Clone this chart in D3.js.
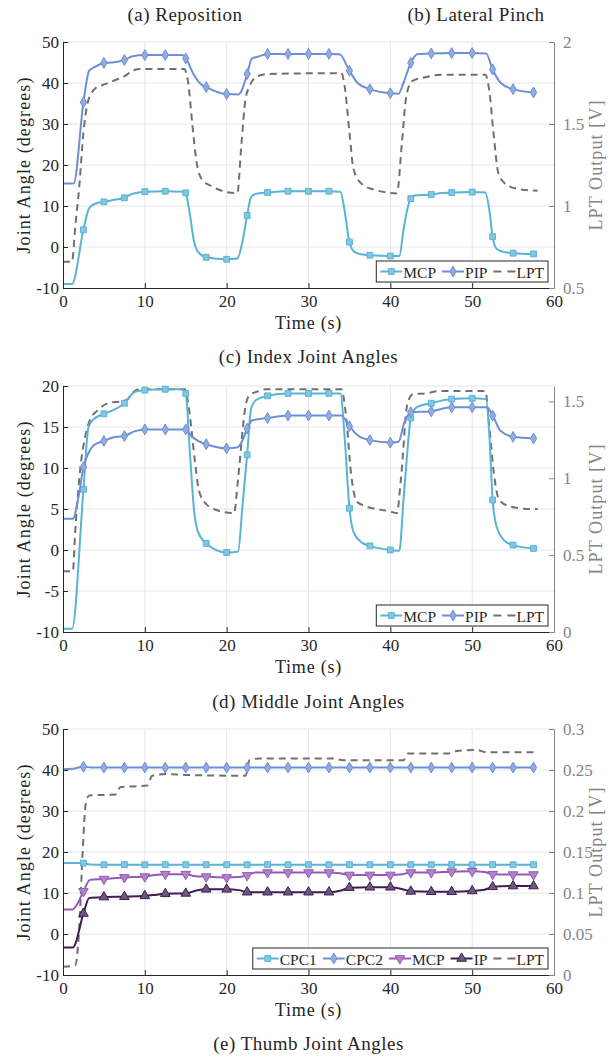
<!DOCTYPE html>
<html>
<head>
<meta charset="utf-8">
<script src="https://cdn.jsdelivr.net/npm/d3@7"></script>
<style>
body { margin: 0; background: #fff; }
text { font-family: "Liberation Serif", "DejaVu Serif", serif; }
</style>
</head>
<body>
<svg id="chart"></svg>
<script>
// time ticks shared by all panels
const timeTicks = [0, 10, 20, 30, 40, 50, 60];

// (a)/(b) Reposition + Lateral pinch : [time s, value]
const repoMcp = [[0,-9],[1.1,-9],[2.5,4.2],[3.2,9.5],[4,10.6],[5,11],[6,11.4],[7.5,12],[8.5,13],[10,13.5],[12.5,13.6],[14.8,13.5],[15,13.2],[15.5,8],[16,1.5],[16.5,-1.2],[17.5,-2.5],[20,-3],[21.3,-2.8],[22,2],[22.5,7.7],[23,12.3],[23.6,13],[25,13.3],[27.5,13.6],[30,13.6],[32.5,13.6],[33.9,13.5],[34.4,9],[35,1.2],[35.6,-1.2],[36.5,-1.8],[37.5,-2],[40,-2.2],[41.1,-2.2],[41.6,4],[42,8.5],[42.5,11.8],[43.1,12.6],[45,12.8],[46,13.1],[47.5,13.3],[50,13.4],[51.6,13.3],[52.1,9],[52.5,2.5],[53,-0.5],[54,-1.3],[55,-1.5],[57.5,-1.7]];
const repoPip = [[0,15.5],[1.3,15.5],[2.5,35.3],[3.2,43],[3.8,43.8],[5,44.9],[6,45],[7.5,45.6],[8.5,46.5],[10,46.8],[12.5,46.8],[14.6,46.8],[15,46],[16,42],[16.8,39.8],[17.5,39],[20,37.3],[21.4,37.2],[21.8,38],[22.5,42.2],[23.1,46],[23.8,46.4],[25,47.1],[27.5,47.1],[30,47.1],[32.5,47.1],[33.8,47],[35,43],[36,40],[37.5,38.5],[40,37.5],[41,37.4],[41.6,40],[42.5,44.9],[43.3,47],[45,47.2],[47.5,47.3],[50,47.3],[51.7,47.2],[52.5,43.3],[53.5,40],[55,38.5],[57.5,37.7]];
const repoLpt = [[0,0.66],[1.1,0.66],[1.5,0.875],[2,1.125],[2.5,1.45],[3,1.625],[3.5,1.69],[4,1.72],[5,1.74],[6.5,1.77],[7.5,1.79],[8.5,1.825],[9.5,1.835],[14.8,1.835],[15.3,1.75],[15.8,1.5],[16.3,1.275],[17,1.16],[18,1.125],[20,1.085],[21.3,1.078],[21.8,1.375],[22.3,1.65],[22.8,1.73],[23.7,1.79],[25,1.805],[34,1.81],[34.5,1.7],[35,1.45],[35.5,1.225],[36.5,1.135],[38,1.1],[40.8,1.078],[41.4,1.375],[41.9,1.65],[42.6,1.76],[44.3,1.785],[46.2,1.8],[51.6,1.8],[52.1,1.7],[52.6,1.45],[53.2,1.2],[54,1.1375],[55.5,1.105],[58,1.093]];

// (c) Index joint angles
const indexMcp = [[0,-9.6],[1.1,-9.6],[2.5,7.4],[3.1,14.9],[3.8,16],[5,16.6],[6,17],[7.5,17.9],[8.8,19.3],[10,19.5],[12.5,19.6],[14.6,19.6],[15,19.1],[15.5,12],[16,5],[16.5,2.2],[17.5,0.8],[20,-0.3],[21.4,-0.2],[21.9,5],[22.5,11.6],[23,17.3],[23.6,18.3],[25,18.8],[27.5,19.1],[30,19.1],[32.5,19.1],[33.9,19.1],[34.4,14],[35,5.1],[35.5,2.2],[36.5,0.9],[37.5,0.5],[40,0],[41.1,-0.1],[41.6,6],[42,11],[42.5,16.1],[43.2,17.4],[45,17.9],[47.5,18.4],[50,18.5],[51.7,18.4],[52.1,14],[52.5,6.1],[53,2.8],[54,1.1],[55,0.6],[57.5,0.2]];
const indexPip = [[0,3.8],[1.2,3.8],[1.9,6.5],[2.5,10.1],[3.1,11.8],[3.8,12.8],[5,13.3],[6,13.7],[7.5,13.9],[8.8,14.5],[10,14.7],[12.5,14.7],[15,14.7],[15.6,14],[16.5,13.3],[17.5,12.9],[20,12.4],[21.3,12.5],[22,13.5],[22.5,14.8],[23.1,15.8],[25,16.1],[27.5,16.4],[30,16.4],[32.5,16.4],[34,16.4],[35,15.1],[36,14],[37.5,13.4],[40,13.1],[41,13.2],[41.7,15.5],[42.5,16.8],[45,16.9],[46.2,17.2],[47.5,17.4],[50,17.4],[51.8,17.4],[52.5,16.4],[53.5,14.5],[55,13.8],[57.5,13.6]];
const indexLpt = [[0,0.395],[1.2,0.395],[1.5,0.66],[2.1,1.056],[2.7,1.269],[3.3,1.38],[4.2,1.44],[5.6,1.49],[7.1,1.5],[7.8,1.51],[8.7,1.565],[9.4,1.579],[14.9,1.579],[15.4,1.45],[16.1,1.12],[16.6,0.923],[17.5,0.832],[19,0.789],[20.9,0.773],[21.4,1.0],[22.3,1.467],[22.8,1.541],[24,1.568],[24.7,1.579],[34,1.579],[34.6,1.4],[35.2,1.029],[35.9,0.848],[37.1,0.816],[40,0.784],[40.8,0.773],[41.3,1.0],[42.1,1.488],[42.8,1.547],[44.3,1.552],[46.2,1.568],[51.6,1.568],[52.1,1.333],[52.6,1.056],[53.3,0.859],[54.7,0.816],[57.1,0.8],[58,0.8]];

// (e) Thumb joint angles
const thumbCpc1 = [[0,17.3],[2.5,17.3],[3.3,16.95],[5,16.9],[7.5,16.9],[10,16.9],[12.5,16.9],[15,16.9],[17.5,16.9],[20,16.9],[22.5,16.9],[25,16.9],[27.5,16.9],[30,16.9],[32.5,16.9],[35,16.9],[37.5,16.9],[40,16.9],[42.5,16.9],[45,16.9],[47.5,16.9],[50,16.9],[52.5,16.9],[55,16.9],[57.5,16.9]];
const thumbCpc2 = [[0,40.2],[1.2,40.3],[2.5,40.8],[3.5,40.6],[5,40.6],[7.5,40.6],[10,40.6],[12.5,40.6],[15,40.6],[17.5,40.6],[20,40.6],[22.5,40.6],[25,40.6],[27.5,40.6],[30,40.6],[32.5,40.6],[35,40.6],[37.5,40.6],[40,40.6],[42.5,40.6],[45,40.6],[47.5,40.6],[50,40.6],[52.5,40.6],[55,40.6],[57.5,40.6]];
const thumbMcp = [[0,6],[1.2,6],[1.8,7.5],[2.5,10.4],[3.3,13.2],[5,13.4],[7.5,13.8],[10,14],[11.2,14.4],[12.5,14.6],[15,14.6],[16.2,14.1],[17.5,14],[20,13.8],[21.5,13.9],[22.5,14.3],[23.5,15],[25,15],[27.5,15],[30,15],[32.5,15],[33.8,14.8],[35,14.4],[37.5,14.4],[40,14.4],[41.5,14.6],[42.5,15],[45,15],[47.5,15.2],[50,15.3],[51.5,15.1],[52.5,14.6],[55,14.5],[57.5,14.5]];
const thumbIp = [[0,-3.3],[1.2,-3.3],[2.5,5],[3.2,8.8],[5,9],[7.5,9.1],[10,9.3],[11.5,9.6],[12.5,9.8],[15,9.9],[16.3,10.6],[17.5,10.9],[20,10.9],[21.5,10.7],[22.5,10.2],[25,10.2],[27.5,10.2],[30,10.2],[32.5,10.2],[34,10.6],[35,11.3],[37.5,11.4],[40,11.4],[41.4,11],[42.5,10.4],[45,10.3],[47.5,10.3],[50,10.5],[51.5,10.8],[52.5,11.5],[55,11.7],[57.5,11.7]];
const thumbLpt = [[0,0.01],[1.5,0.012],[2,0.06],[2.4,0.15],[2.8,0.21],[3.2,0.219],[6.4,0.22],[7,0.229],[10.3,0.231],[10.9,0.243],[12.5,0.245],[15,0.244],[22.3,0.243],[22.8,0.262],[24,0.264],[33,0.264],[34.3,0.262],[41.6,0.262],[42.2,0.27],[47,0.27],[48,0.273],[50.5,0.2745],[51.8,0.2715],[58,0.2715]];

// axis ticks
const angleTicks50 = [-10, 0, 10, 20, 30, 40, 50];
const angleTicks20 = [-10, -5, 0, 5, 10, 15, 20];
const repoLptTicks = [0.5, 1, 1.5, 2];
const indexLptTicks = [0, 0.5, 1, 1.5];
const thumbLptTicks = [0, 0.05, 0.1, 0.15, 0.2, 0.25, 0.3];

const COLORS = {
    mcp: '#5ab3d6',
    pip: '#6d8fd5',
    lpt: '#707070',
    tmcp: '#9659b4',
    ip: '#3f1d52'
};

const W = 613, H = 1057;
const X0 = 63, X1 = 554;
const FONT = '"Liberation Serif", "DejaVu Serif", serif';

const svg = d3.select('#chart').attr('width', W).attr('height', H);
svg.append('rect').attr('width', W).attr('height', H).attr('fill', '#fff');

const xScale = d3.scaleLinear().domain([0, 60]).range([X0, X1]);

const panels = [
    {
        top: 42, bottom: 288,
        yDomain: [-10, 50], yTicks: angleTicks50,
        rDomain: [0.5, 2], rTicks: repoLptTicks,
        lpt: repoLpt,
        series: [
            {name: 'MCP', data: repoMcp, color: COLORS.mcp, marker: 'square'},
            {name: 'PIP', data: repoPip, color: COLORS.pip, marker: 'diamond'}
        ],
        caption: '(c) Index Joint Angles', captionY: 363
    },
    {
        top: 386, bottom: 632,
        yDomain: [-10, 20], yTicks: angleTicks20,
        rDomain: [0, 1.6], rTicks: indexLptTicks,
        lpt: indexLpt,
        series: [
            {name: 'MCP', data: indexMcp, color: COLORS.mcp, marker: 'square'},
            {name: 'PIP', data: indexPip, color: COLORS.pip, marker: 'diamond'}
        ],
        caption: '(d) Middle Joint Angles', captionY: 708
    },
    {
        top: 729, bottom: 975,
        yDomain: [-10, 50], yTicks: angleTicks50,
        rDomain: [0, 0.3], rTicks: thumbLptTicks,
        lpt: thumbLpt,
        series: [
            {name: 'CPC1', data: thumbCpc1, color: COLORS.mcp, marker: 'square'},
            {name: 'CPC2', data: thumbCpc2, color: COLORS.pip, marker: 'diamond'},
            {name: 'MCP', data: thumbMcp, color: COLORS.tmcp, marker: 'down'},
            {name: 'IP', data: thumbIp, color: COLORS.ip, marker: 'up'}
        ],
        caption: '(e) Thumb Joint Angles', captionY: 1050
    }
];

function markerPath(type) {
    if (type === 'square') return d3.symbol().type(d3.symbolSquare).size(34)();
    if (type === 'diamond') return d3.symbol().type(d3.symbolDiamond).size(34)();
    return d3.symbol().type(d3.symbolTriangle).size(40)();
}

function drawMarker(g, type, color, cx, cy) {
    g.append('path')
        .attr('d', markerPath(type))
        .attr('transform', `translate(${cx},${cy})` + (type === 'down' ? ' rotate(180)' : ''))
        .attr('fill', d3.interpolateRgb(color, '#ffffff')(0.25))
        .attr('stroke', color)
        .attr('stroke-width', 1);
}

function styleAxis(sel, color) {
    sel.attr('font-family', FONT).attr('font-size', 17);
    sel.select('.domain').attr('stroke', color).attr('stroke-width', 1);
    sel.selectAll('.tick line').attr('stroke', color).attr('stroke-width', 1);
    sel.selectAll('.tick text').attr('fill', color);
}

function drawPanel(p) {
    const g = svg.append('g');
    const yL = d3.scaleLinear().domain(p.yDomain).range([p.bottom, p.top]);
    const yR = d3.scaleLinear().domain(p.rDomain).range([p.bottom, p.top]);

    // grid
    g.selectAll('.vgrid')
        .data(timeTicks.filter(t => t > 0 && t < 60))
        .enter().append('line')
        .attr('x1', d => xScale(d)).attr('x2', d => xScale(d))
        .attr('y1', p.top).attr('y2', p.bottom)
        .attr('stroke', '#e6e6e6').attr('stroke-width', 1);
    g.selectAll('.hgrid')
        .data(p.yTicks.filter(t => t > p.yDomain[0]))
        .enter().append('line')
        .attr('x1', X0).attr('x2', X1)
        .attr('y1', d => yL(d)).attr('y2', d => yL(d))
        .attr('stroke', '#e6e6e6').attr('stroke-width', 1);

    // LPT output, right axis
    g.append('path')
        .datum(p.lpt)
        .attr('fill', 'none')
        .attr('stroke', COLORS.lpt)
        .attr('stroke-width', 2)
        .attr('stroke-dasharray', '7,5')
        .attr('d', d3.line()
            .x(d => xScale(d[0]))
            .y(d => yR(d[1]))
            .curve(d3.curveMonotoneX));

    // joint angles
    p.series.forEach(s => {
        g.append('path')
            .datum(s.data)
            .attr('fill', 'none')
            .attr('stroke', s.color)
            .attr('stroke-width', 2)
            .attr('d', d3.line()
                .x(d => xScale(d[0]))
                .y(d => yL(d[1]))
                .curve(d3.curveMonotoneX));
        s.data.filter(d => d[0] > 0 && Number.isInteger(d[0] / 2.5))
            .forEach(d => drawMarker(g, s.marker, s.color, xScale(d[0]), yL(d[1])));
    });

    // axes
    const bottomAxis = g.append('g')
        .attr('transform', `translate(0,${p.bottom})`)
        .call(d3.axisBottom(xScale).tickValues(timeTicks).tickSizeInner(-5).tickSizeOuter(0).tickPadding(7));
    styleAxis(bottomAxis, '#262626');

    const leftAxis = g.append('g')
        .attr('transform', `translate(${X0},0)`)
        .call(d3.axisLeft(yL).tickValues(p.yTicks).tickSizeInner(-5).tickSizeOuter(0).tickPadding(4)
            .tickFormat(d => String(d)));
    styleAxis(leftAxis, '#262626');

    const rightAxis = g.append('g')
        .attr('transform', `translate(${X1},0)`)
        .call(d3.axisRight(yR).tickValues(p.rTicks).tickSizeInner(-5).tickSizeOuter(0).tickPadding(9)
            .tickFormat(d => String(+d.toFixed(2))));
    styleAxis(rightAxis, '#858585');

    // axis labels
    const midY = (p.top + p.bottom) / 2;
    g.append('text')
        .attr('transform', `translate(24,${midY}) rotate(-90)`)
        .attr('text-anchor', 'middle')
        .attr('dominant-baseline', 'central')
        .attr('font-size', 18)
        .attr('letter-spacing', 1.1)
        .attr('fill', '#262626')
        .text('Joint Angle (degrees)');
    g.append('text')
        .attr('transform', `translate(596,${midY}) rotate(-90)`)
        .attr('text-anchor', 'middle')
        .attr('dominant-baseline', 'central')
        .attr('font-size', 18)
        .attr('letter-spacing', 1.1)
        .attr('fill', '#858585')
        .text('LPT Output [V]');
    g.append('text')
        .attr('x', (X0 + X1) / 2)
        .attr('y', p.bottom + 41)
        .attr('text-anchor', 'middle')
        .attr('font-size', 18)
        .attr('letter-spacing', 0.8)
        .attr('fill', '#262626')
        .text('Time (s)');

    // legend
    const items = p.series.map(s => ({label: s.name, color: s.color, marker: s.marker}))
        .concat([{label: 'LPT', color: COLORS.lpt, dashed: true}]);
    const lg = g.append('g');
    const sampleLen = 22;
    let cx = 0;
    const placed = [];
    items.forEach((it, i) => {
        const t = lg.append('text')
            .attr('font-size', 15.5)
            .attr('fill', '#262626')
            .attr('dominant-baseline', 'central')
            .text(it.label);
        const tw = t.node().getComputedTextLength();
        placed.push({it, t, x: cx, tw});
        cx += sampleLen + 1 + tw + (i < items.length - 1 ? 6 : 0);
    });
    const boxW = cx + 8;
    const boxH = 21;
    const boxX = X1 - 6 - boxW;
    const boxY = p.bottom - 6 - boxH;
    lg.insert('rect', ':first-child')
        .attr('x', boxX).attr('y', boxY)
        .attr('width', boxW).attr('height', boxH)
        .attr('fill', '#fff')
        .attr('stroke', '#262626')
        .attr('stroke-width', 1);
    const ly = boxY + boxH / 2;
    placed.forEach(pl => {
        const sx = boxX + 4 + pl.x;
        lg.append('line')
            .attr('x1', sx).attr('x2', sx + sampleLen)
            .attr('y1', ly).attr('y2', ly)
            .attr('stroke', pl.it.color)
            .attr('stroke-width', 2)
            .attr('stroke-dasharray', pl.it.dashed ? '8,6' : null);
        if (pl.it.marker) drawMarker(lg, pl.it.marker, pl.it.color, sx + sampleLen / 2, ly);
        pl.t.attr('x', sx + sampleLen + 1).attr('y', ly + 1).raise();
    });

    // caption
    svg.append('text')
        .attr('x', (X0 + X1) / 2)
        .attr('y', p.captionY)
        .attr('text-anchor', 'middle')
        .attr('font-size', 19)
        .attr('letter-spacing', 0.5)
        .attr('fill', '#262626')
        .text(p.caption);
}

panels.forEach(drawPanel);

// titles above the first panel
svg.append('text').attr('x', 185).attr('y', 21).attr('text-anchor', 'middle')
    .attr('font-size', 19).attr('letter-spacing', 0.5).attr('fill', '#262626').text('(a) Reposition');
svg.append('text').attr('x', 476).attr('y', 21).attr('text-anchor', 'middle')
    .attr('font-size', 19).attr('letter-spacing', 0.5).attr('fill', '#262626').text('(b) Lateral Pinch');
</script>
</body>
</html>
